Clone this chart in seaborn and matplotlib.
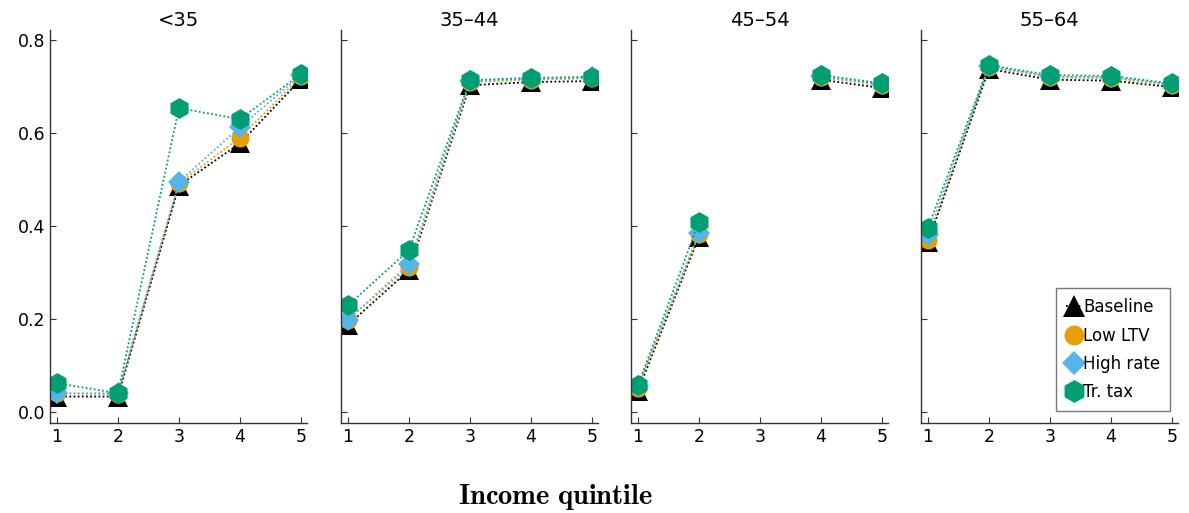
import numpy as np
import pandas as pd
import matplotlib
matplotlib.use("Agg")
import matplotlib.pyplot as plt
import seaborn as sns

sns.set_style("white")
plt.rcParams["font.family"] = ["DejaVu Sans"]
plt.rcParams["mathtext.fontset"] = "cm"
plt.rcParams["text.color"] = "black"
plt.rcParams["axes.labelcolor"] = "black"

quintiles = [1, 2, 3, 4, 5]
age_groups = ["<35", "35\u201344", "45\u201354", "55\u201364"]
scenarios = ["Baseline", "Low LTV", "High rate", "Tr. tax"]

# values per age group, per scenario
baseline = [
    [0.033, 0.033, 0.487, 0.578, 0.716],
    [0.187, 0.305, 0.703, 0.710, 0.712],
    [0.045, 0.377, np.nan, 0.715, 0.697],
    [0.365, 0.738, 0.715, 0.713, 0.699],
]
low_ltv = [
    [0.040, 0.038, 0.492, 0.590, 0.722],
    [0.198, 0.312, 0.710, 0.715, 0.718],
    [0.052, 0.382, np.nan, 0.720, 0.703],
    [0.371, 0.742, 0.720, 0.718, 0.703],
]
high_rate = [
    [0.040, 0.040, 0.495, 0.613, 0.725],
    [0.198, 0.318, 0.712, 0.717, 0.720],
    [0.055, 0.386, np.nan, 0.722, 0.705],
    [0.381, 0.744, 0.722, 0.720, 0.705],
]
tr_tax = [
    [0.062, 0.040, 0.654, 0.630, 0.727],
    [0.229, 0.348, 0.714, 0.719, 0.721],
    [0.057, 0.409, np.nan, 0.725, 0.707],
    [0.396, 0.746, 0.725, 0.723, 0.707],
]
y_ticks = [0.0, 0.2, 0.4, 0.6, 0.8]

series = [baseline, low_ltv, high_rate, tr_tax]
colors = ["#000000", "#E69F00", "#56B4E9", "#009E73"]
markers = ["^", "o", "D", "h"]
msizes = [15, 13, 11, 15]

fig = plt.figure(figsize=(11.89, 5.13), dpi=100)
W, H = 1189, 513
lefts = [50, 341, 631, 921]
axw = 257
bottom_px, top_px = 423, 30

axes = []
for i, lp in enumerate(lefts):
    ax = fig.add_axes([lp / W, 1 - bottom_px / H, axw / W, (bottom_px - top_px) / H])
    axes.append(ax)
    for s_name, s_vals, c, m, ms in zip(scenarios, series, colors, markers, msizes):
        vals = np.array(s_vals[i], dtype=float)
        df = pd.DataFrame({"q": quintiles, "v": vals})
        # split into contiguous runs so gaps stay gaps
        run_id = df["v"].isna().cumsum()
        good = df[df["v"].notna()].copy()
        good["run"] = run_id[df["v"].notna()]
        first = True
        for _, g in good.groupby("run"):
            sns.lineplot(data=g, x="q", y="v", ax=ax, color=c, marker=m,
                         markersize=ms, markeredgewidth=0,
                         linestyle=(0, (1, 1.3)),
                         linewidth=1.3, label=s_name if first else None,
                         legend=False)
            first = False
    ax.set_xlim(0.886, 5.1)
    ax.set_ylim(-0.024, 0.822)
    ax.set_xticks(quintiles)
    ax.set_yticks(y_ticks)
    ax.set_xlabel("")
    ax.set_ylabel("")
    ax.set_title(age_groups[i], fontsize=14, pad=3, color="black")
    for sp in ["top", "right"]:
        ax.spines[sp].set_visible(False)
    for sp in ["left", "bottom"]:
        ax.spines[sp].set_color("#333333")
        ax.spines[sp].set_linewidth(1.0)
    ax.tick_params(direction="in", length=4, width=0.8, colors="#333333",
                   labelcolor="black", labelsize=12.5, bottom=True, left=True)
    if i == 0:
        ax.set_yticklabels([f"{t:.1f}" for t in y_ticks])
    else:
        ax.set_yticklabels([])

handles, labels = axes[3].get_legend_handles_labels()
leg = axes[3].legend(handles, labels, loc="lower right",
                     bbox_to_anchor=(0.97, 0.03), frameon=True, fancybox=False,
                     handlelength=0.9, handletextpad=0.1, borderpad=0.6,
                     labelspacing=0.62, fontsize=12, borderaxespad=0,
                     markerscale=1.1)
leg.get_frame().set_edgecolor("#555555")
leg.get_frame().set_linewidth(1.0)
for t in leg.get_texts():
    t.set_color("black")

fig.text(556 / W, 1 - 497 / H, r"$\mathbf{Income\ quintile}$", ha="center",
         va="center", fontsize=20.5, color="black")

fig.savefig("out.png", dpi=100)
